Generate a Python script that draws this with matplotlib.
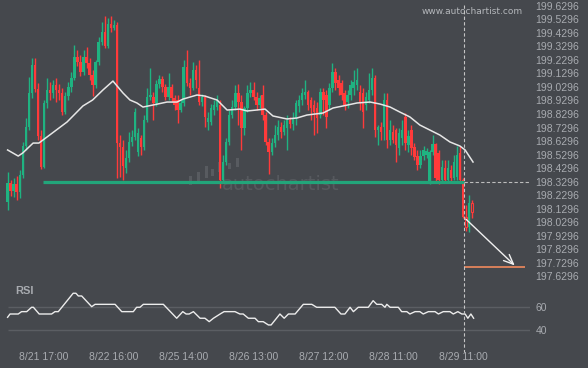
import numpy as np
import matplotlib
matplotlib.use("Agg")
import matplotlib.pyplot as plt
from matplotlib.lines import Line2D
from matplotlib.patches import Rectangle

plt.rcParams['font.family'] = ['Liberation Sans', 'DejaVu Sans']

# hourly candles, 8/21 .. 8/29
opens = [198.180, 198.320, 198.261, 198.313, 198.254, 198.379, 198.593, 198.734, 198.985, 199.192,
         199.014, 198.667, 198.438, 198.911, 199.007, 198.985, 199.044, 199.007, 198.985, 198.844,
         198.963, 199.029, 199.096, 199.251, 199.214, 199.140, 199.251, 199.206, 199.118, 199.044,
         199.214, 199.361, 199.435, 199.332, 199.494, 199.465, 199.487, 198.615, 198.586, 198.431,
         198.505, 198.623, 198.660, 198.549, 198.652, 198.586, 198.785, 198.955, 198.955, 198.911,
         199.051, 199.088, 199.029, 198.955, 199.029, 198.948, 198.933, 198.859, 198.911, 199.177,
         199.059, 199.022, 199.155, 199.022, 198.918, 198.955, 198.771, 198.771, 198.859, 198.881,
         198.896, 198.342, 198.475, 198.623, 198.822, 198.881, 198.985, 198.918, 198.726, 198.874,
         198.985, 199.007, 198.955, 198.896, 198.970, 198.822, 198.623, 198.549, 198.615, 198.674,
         198.734, 198.697, 198.726, 198.785, 198.756, 198.800, 198.889, 198.933, 198.970, 198.992,
         198.933, 198.896, 198.874, 198.822, 198.992, 198.970, 198.896, 199.022, 199.140, 199.081,
         199.059, 198.985, 198.918, 198.970, 199.022, 199.044, 198.992, 198.985, 198.896, 198.933,
         199.007, 199.096, 198.711, 198.734, 198.734, 198.933, 198.638, 198.697, 198.711, 198.578,
         198.652, 198.807, 198.601, 198.711, 198.586, 198.519, 198.453, 198.519, 198.527, 198.327,
         198.549, 198.608, 198.541, 198.342, 198.431, 198.342, 198.416, 198.357, 198.364, 198.541,
         198.342, 198.069, 197.995, 198.172]
closes = [198.320, 198.261, 198.313, 198.254, 198.379, 198.593, 198.734, 198.985, 199.192, 199.014,
          198.667, 198.438, 198.911, 199.007, 198.985, 199.044, 199.007, 198.985, 198.844, 198.963,
          199.029, 199.096, 199.251, 199.214, 199.140, 199.251, 199.206, 199.118, 199.044, 199.214,
          199.361, 199.435, 199.332, 199.494, 199.465, 199.487, 198.615, 198.586, 198.446, 198.505,
          198.623, 198.660, 198.844, 198.689, 198.586, 198.785, 198.955, 198.970, 198.911, 199.051,
          199.088, 199.029, 198.955, 199.029, 198.948, 198.896, 198.859, 198.911, 199.177, 199.059,
          199.022, 199.155, 199.081, 198.918, 198.955, 198.807, 198.800, 198.874, 198.896, 198.933,
          198.342, 198.475, 198.623, 198.822, 198.881, 198.985, 198.918, 198.726, 198.874, 198.985,
          199.007, 198.955, 198.896, 198.948, 198.822, 198.623, 198.549, 198.615, 198.674, 198.734,
          198.697, 198.748, 198.785, 198.756, 198.800, 198.911, 198.933, 198.985, 198.992, 198.896,
          198.874, 198.844, 198.800, 198.992, 198.933, 198.807, 199.022, 199.140, 199.059, 199.022,
          198.970, 198.896, 198.970, 199.044, 199.066, 199.081, 198.918, 198.844, 198.955, 199.007,
          199.096, 198.711, 198.734, 198.697, 198.933, 198.638, 198.711, 198.638, 198.601, 198.689,
          198.711, 198.615, 198.667, 198.578, 198.512, 198.453, 198.519, 198.564, 198.556, 198.549,
          198.608, 198.357, 198.342, 198.438, 198.342, 198.431, 198.357, 198.475, 198.527, 198.342,
          198.069, 197.995, 198.172, 198.106]
highs = [198.401, 198.342, 198.357, 198.372, 198.416, 198.623, 198.800, 199.103, 199.243, 199.243,
         199.059, 198.711, 198.933, 199.096, 199.066, 199.081, 199.096, 199.051, 199.022, 198.992,
         199.066, 199.140, 199.339, 199.302, 199.265, 199.302, 199.324, 199.243, 199.155, 199.228,
         199.398, 199.509, 199.553, 199.539, 199.553, 199.524, 199.509, 198.674, 198.638, 198.564,
         198.697, 198.711, 198.874, 198.726, 198.674, 198.822, 199.022, 199.169, 198.992, 199.081,
         199.118, 199.110, 199.051, 199.132, 199.051, 198.970, 198.970, 198.933, 199.228, 199.302,
         199.096, 199.214, 199.192, 199.228, 198.977, 198.970, 198.844, 198.903, 198.933, 198.970,
         198.933, 198.527, 198.652, 198.859, 198.933, 199.044, 199.051, 198.970, 198.889, 199.044,
         199.066, 199.066, 198.992, 198.970, 199.044, 198.844, 198.652, 198.652, 198.748, 198.785,
         198.771, 198.785, 198.822, 198.807, 198.844, 198.933, 198.970, 199.022, 199.081, 199.007,
         198.955, 198.933, 198.918, 199.022, 199.022, 199.007, 199.059, 199.206, 199.169, 199.118,
         199.081, 199.007, 199.007, 199.081, 199.155, 199.169, 199.044, 199.022, 198.992, 199.132,
         199.169, 199.118, 198.748, 198.771, 198.985, 198.985, 198.785, 198.748, 198.726, 198.726,
         198.785, 198.837, 198.711, 198.748, 198.615, 198.564, 198.564, 198.593, 198.578, 198.564,
         198.674, 198.615, 198.564, 198.490, 198.490, 198.490, 198.453, 198.527, 198.593, 198.593,
         198.357, 198.158, 198.231, 198.195]
lows = [198.121, 198.224, 198.217, 198.195, 198.209, 198.357, 198.564, 198.711, 198.948, 198.992,
        198.638, 198.423, 198.431, 198.874, 198.933, 198.948, 198.918, 198.933, 198.822, 198.830,
        198.933, 198.992, 199.081, 199.184, 199.110, 199.118, 199.169, 199.081, 198.963, 199.022,
        199.192, 199.339, 199.317, 199.317, 199.435, 199.450, 198.357, 198.364, 198.342, 198.394,
        198.475, 198.593, 198.638, 198.519, 198.527, 198.564, 198.771, 198.933, 198.785, 198.889,
        199.022, 198.992, 198.933, 198.933, 198.918, 198.859, 198.763, 198.844, 198.889, 199.036,
        198.970, 199.007, 199.022, 198.896, 198.889, 198.734, 198.711, 198.748, 198.822, 198.859,
        198.283, 198.320, 198.453, 198.601, 198.800, 198.859, 198.748, 198.564, 198.674, 198.844,
        198.955, 198.933, 198.859, 198.874, 198.785, 198.601, 198.386, 198.527, 198.586, 198.638,
        198.652, 198.674, 198.564, 198.726, 198.711, 198.748, 198.844, 198.896, 198.940, 198.859,
        198.785, 198.674, 198.689, 198.800, 198.822, 198.726, 198.859, 198.992, 199.007, 198.970,
        198.933, 198.859, 198.874, 198.933, 198.970, 199.007, 198.859, 198.726, 198.859, 198.911,
        198.970, 198.660, 198.601, 198.638, 198.638, 198.578, 198.601, 198.615, 198.475, 198.527,
        198.601, 198.564, 198.549, 198.527, 198.490, 198.416, 198.431, 198.490, 198.505, 198.313,
        198.527, 198.327, 198.313, 198.320, 198.320, 198.327, 198.320, 198.342, 198.342, 198.327,
        198.062, 197.965, 197.958, 198.062]
hollow = [151, 153]

# moving average
ma_x = [0, 3.5, 5, 8.4, 10.3, 13, 19.6, 24.8, 28, 31.4, 34.7, 38, 40.3, 42.6, 44.6, 47.9,
        52.5, 55.8, 57.8, 62.4, 65, 69, 72.3, 76.5, 78.9, 82, 84.8, 87.4, 92, 95.3, 98.6,
        103.9, 107.2, 110.5, 115.1, 119.4, 122.7, 126, 129.2, 132.5, 135.8, 139.1, 142.4,
        145.7, 149, 150.7, 153.3]
ma_y = [198.564, 198.519, 198.542, 198.615, 198.615, 198.660, 198.771, 198.889, 198.933,
        199.007, 199.073, 198.985, 198.933, 198.911, 198.881, 198.896, 198.918, 198.918,
        198.940, 198.970, 198.962, 198.933, 198.859, 198.866, 198.852, 198.859, 198.866,
        198.815, 198.793, 198.800, 198.822, 198.837, 198.874, 198.889, 198.911, 198.918,
        198.903, 198.881, 198.844, 198.808, 198.748, 198.711, 198.674, 198.623, 198.593,
        198.564, 198.475]

# RSI
rsi_x = [0, 0.8, 3.5, 4.6, 6.3, 7.9, 8.5, 10.4, 14.5, 15.6, 16.7, 21.6, 22.5, 23.3, 24.4,
         27.7, 28.8, 35.4, 37.6, 41.4, 42.5, 43.6, 44.7, 51.3, 55.7, 57.7, 58.8, 59.8, 61.2,
         63.4, 65.0, 66.4, 67.8, 70.0, 71.3, 74.9, 76.5, 77.6, 79.3, 81.5, 82.6, 84.2, 85.9,
         86.8, 89.7, 91.1, 92.5, 94.7, 97.4, 100.2, 101.8, 107.8, 109.8, 111.1, 112.8, 113.9,
         115.5, 118.8, 120.4, 121.6, 123.2, 124.3, 124.9, 126.0, 128.7, 129.8, 131.5, 132.5,
         134.2, 135.8, 136.9, 138.6, 140.8, 141.9, 143.5, 145.7, 146.8, 148.3, 149.6, 150.7,
         151.6, 152.6, 153.5]
rsi_y = [51.0, 53.8, 53.8, 55.8, 55.8, 59.5, 59.5, 53.8, 53.8, 55.8, 55.8, 71.4, 71.4, 69.1,
         69.1, 60.0, 62.0, 62.0, 55.8, 55.8, 59.5, 59.5, 62.0, 62.0, 50.2, 55.8, 53.8, 53.8,
         55.8, 50.2, 50.2, 47.3, 50.2, 53.8, 55.8, 55.8, 53.8, 53.8, 50.2, 50.2, 47.3, 47.3,
         44.5, 44.5, 53.8, 50.2, 53.8, 53.8, 62.0, 62.0, 59.5, 59.5, 53.8, 53.8, 59.5, 55.8,
         59.5, 59.5, 65.1, 62.0, 62.0, 59.5, 62.0, 59.5, 59.5, 55.8, 55.8, 53.8, 55.8, 55.8,
         53.8, 55.8, 55.8, 53.8, 55.8, 55.8, 53.8, 55.8, 53.8, 53.8, 50.2, 53.8, 50.2]

tick_idx = [12, 35, 58, 81, 104, 127, 150]
tick_labels = ["8/21 17:00", "8/22 16:00", "8/25 14:00", "8/26 13:00",
               "8/27 12:00", "8/28 11:00", "8/29 11:00"]
price_ticks = [199.6296, 199.5296, 199.4296, 199.3296, 199.2296, 199.1296, 199.0296,
               198.9296, 198.8296, 198.7296, 198.6296, 198.5296, 198.4296, 198.3296,
               198.2296, 198.1296, 198.0296, 197.9296, 197.8296, 197.7296, 197.6296]

support = 198.3296
signal_idx = 150.3
target = 197.697
arrow_start = 198.067
arrow_end_idx = 167.7

bg = '#45484d'
up_col = '#1fb381'
dn_col = '#ff3a3a'
txt_col = '#a8abb0'

fig = plt.figure(figsize=(5.88, 3.68), dpi=100, facecolor=bg)
W, H = 588.0, 368.0
ax_w = 530.0
ax = fig.add_axes([0, 1 - 285 / H, ax_w / W, 285 / H])
rx = fig.add_axes([0, 1 - 345 / H, ax_w / W, 60 / H])
xlim = (-7.6 / 3.036, (ax_w - 7.6) / 3.036)

for a in (ax, rx):
    a.set_facecolor(bg)
    for s in a.spines.values():
        s.set_visible(False)
    a.set_xlim(*xlim)

# watermark
ax.text(222 / ax_w, 1 - 190 / 285, "autochartist", transform=ax.transAxes,
        fontsize=14, color='#56595e', family='DejaVu Sans', va='baseline', zorder=0.5)
logo_bars = [(189, 176, 185), (197, 172, 183), (205, 166, 178), (211, 169, 176),
             (218, 162, 172), (228, 163, 169), (236, 158, 167)]
for bx, top, bot in logo_bars:
    ax.add_patch(Rectangle((bx / ax_w, 1 - bot / 285), 3 / ax_w, (bot - top) / 285,
                           transform=ax.transAxes, color='#585b60', lw=0, zorder=0.5))

# candles
o = np.array(opens); c = np.array(closes); h = np.array(highs); l = np.array(lows)
idx = np.arange(len(o))
cols = np.where(c >= o, up_col, dn_col)
ax.vlines(idx, l, h, colors=cols, lw=1.0, zorder=2)
body = np.maximum(np.abs(c - o), 0.004)
bottom = np.minimum(o, c)
solid = [i for i in idx if i not in hollow]
ax.bar(idx[solid], body[solid], bottom=bottom[solid], width=0.8,
       color=cols[solid], lw=0, zorder=3)
ax.bar(idx[hollow], body[hollow], bottom=bottom[hollow], width=0.8,
       facecolor=bg, edgecolor=dn_col, lw=0.8, zorder=3)

# moving average
ax.plot(ma_x, ma_y, color='#e6e6e6', lw=1.1, zorder=4)

# support line and pattern projection
ax.hlines(support, 11.7, signal_idx, color='#22a57a', lw=2.3, zorder=4)
ax.hlines(support, signal_idx, xlim[1], color='#bdbdbd', lw=0.8, linestyles=(0, (3, 2)), zorder=4)
ax.hlines(target, signal_idx, 170.4, color='#f08a5d', lw=1.2, zorder=4)
ax.annotate('', xy=(arrow_end_idx, target), xytext=(signal_idx, arrow_start),
            arrowprops=dict(arrowstyle='->,head_length=0.7,head_width=0.3',
                            color='#f0f0f0', lw=1.0), zorder=5)

ax.set_ylim(197.5667, 199.6716)
ax.set_xticks([])
ax.yaxis.tick_right()
ax.set_yticks(price_ticks)
ax.set_yticklabels(['%.4f' % p for p in price_ticks])
ax.tick_params(axis='y', length=0, pad=4, labelcolor=txt_col, labelsize=7.5)

# RSI panel
rx.set_ylim(27.5, 78.4)
rx.hlines([60, 40], 0, xlim[1], color='#5b5e63', lw=1, zorder=1)
rx.plot(rsi_x, rsi_y, color='#ececec', lw=1, zorder=3)
rx.yaxis.tick_right()
rx.set_yticks([60, 40])
rx.set_yticklabels(['60', '40'])
rx.set_xticks(tick_idx)
rx.set_xticklabels(tick_labels)
rx.tick_params(length=0, labelcolor=txt_col, labelsize=7.5)
rx.tick_params(axis='y', pad=4)
rx.tick_params(axis='x', pad=5)
fig.text(15 / W, 1 - 291 / H, "RSI", color=txt_col, fontsize=8, fontweight='bold', va='center')

# signal time marker across both panels
xs = (7.6 + 3.036 * signal_idx) / W
fig.add_artist(Line2D([xs, xs], [1 - 5 / H, 1 - 352 / H], transform=fig.transFigure,
                      color='#c4c4c4', lw=0.8, linestyle=(0, (3, 2)), zorder=6))

fig.text(523 / W, 1 - 11.5 / H, "www.autochartist.com", color='#b4b7bb', fontsize=6.5,
         family='DejaVu Sans', ha='right', va='center')

fig.savefig("out.png", dpi=100, facecolor=bg)
